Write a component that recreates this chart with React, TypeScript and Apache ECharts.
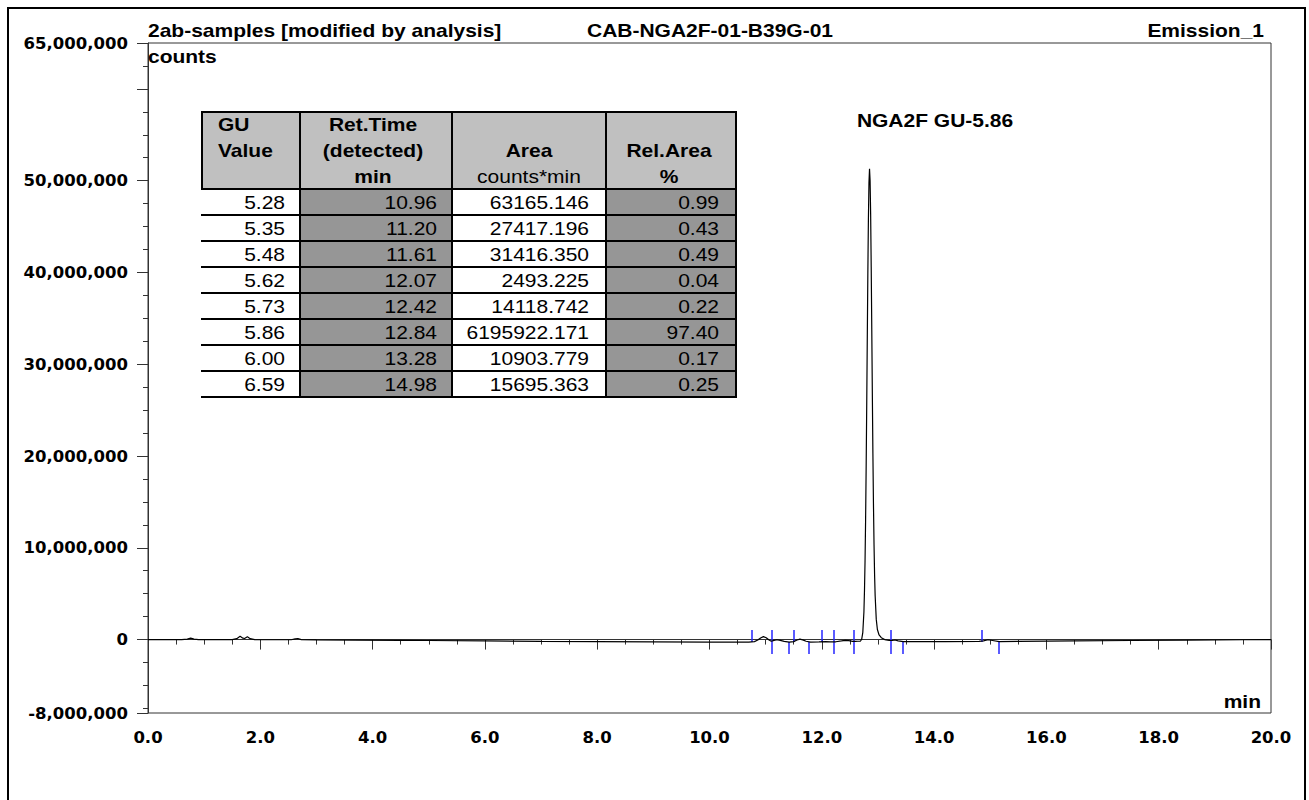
import React, { useEffect, useRef } from "react";
import * as echarts from "echarts";

// ---- axis ticks / labels ----
const yLabelValues = [-8000000, 0, 10000000, 20000000, 30000000, 40000000, 50000000, 65000000];
const yMajorTicks = [-8000000, 0, 10000000, 20000000, 30000000, 40000000, 50000000, 60000000, 65000000];
const yMinorTicks = [
  -7500000, -5000000, -2500000, 2500000, 5000000, 7500000, 12500000, 15000000, 17500000,
  22500000, 25000000, 27500000, 32500000, 35000000, 37500000, 42500000, 45000000, 47500000,
  52500000, 55000000, 57500000, 62500000,
];

// ---- trace (time in min, signal in millions of counts) ----
const traceTime = [
  0.0, 0.6, 0.7, 0.76, 0.82, 0.9, 1.5, 1.58, 1.64, 1.69, 1.72, 1.77, 1.82, 1.9, 2.2, 2.55, 2.62,
  2.67, 2.73, 3.0, 3.7, 4.5, 5.0, 6.0, 7.0, 8.0, 9.0, 10.0, 10.7, 10.8, 10.86, 10.91, 10.96,
  11.01, 11.06, 11.1, 11.15, 11.2, 11.26, 11.33, 11.42, 11.5, 11.56, 11.61, 11.66, 11.72, 11.8,
  11.95, 12.07, 12.15, 12.25, 12.35, 12.42, 12.48, 12.55, 12.6, 12.64, 12.69, 12.71, 12.73,
  12.75, 12.76, 12.77, 12.78, 12.79, 12.8, 12.81, 12.82, 12.83, 12.84, 12.85, 12.86, 12.87,
  12.88, 12.89, 12.9, 12.91, 12.92, 12.93, 12.94, 12.95, 12.97, 12.99, 13.02, 13.06, 13.12,
  13.2, 13.26, 13.3, 13.36, 13.45, 13.7, 14.2, 14.8, 14.88, 14.96, 15.04, 15.16, 15.5, 16.5,
  17.5, 18.5, 19.5, 20.0,
];
const traceMillions = [
  0, 0, 0.05, 0.15, 0.05, 0, 0, 0.1, 0.35, 0.15, 0.12, 0.3, 0.1, 0, -0.02, -0.02, 0.08,
  0.12, 0.0, -0.03, -0.05, -0.08, -0.1, -0.15, -0.2, -0.22, -0.25, -0.27, -0.27, -0.22, -0.05, 0.18, 0.32,
  0.2, -0.05, -0.18, -0.08, -0.02, -0.08, -0.2, -0.28, -0.22, -0.05, 0.05, -0.03, -0.18, -0.27,
  -0.26, -0.22, -0.25, -0.24, -0.15, -0.08, -0.12, -0.2, -0.2, -0.18, -0.16, 0.03, 0.76,
  3.0, 5.3, 8.5, 13.0, 18.8, 25.5, 32.8, 39.9, 45.8, 49.8, 51.3, 50.0, 46.3,
  40.6, 33.8, 26.8, 20.3, 14.8, 10.4, 7.1, 4.8, 2.2, 1.1, 0.5, 0.2, 0.0,
  -0.1, -0.1, -0.05, -0.15, -0.22, -0.22, -0.22, -0.2, -0.15, -0.02, -0.1, -0.22, -0.2, -0.15,
  -0.1, -0.06, -0.02, 0.0,
];

// ---- integration markers (min) ----
const peakStartTimes = [10.76, 11.1, 11.5, 12.0, 12.22, 12.57, 13.23, 14.85];
const peakEndTimes = [11.1, 11.42, 11.77, 12.22, 12.57, 13.23, 13.45, 15.16];

// ---- table ----
const guValues = ["5.28", "5.35", "5.48", "5.62", "5.73", "5.86", "6.00", "6.59"];
const retTimes = ["10.96", "11.20", "11.61", "12.07", "12.42", "12.84", "13.28", "14.98"];
const areas = ["63165.146", "27417.196", "31416.350", "2493.225", "14118.742", "6195922.171", "10903.779", "15695.363"];
const relAreas = ["0.99", "0.43", "0.49", "0.04", "0.22", "97.40", "0.17", "0.25"];

const FONT = '"Liberation Sans", Arial, Helvetica, sans-serif';
const AXIS_FONT = '"DejaVu Sans", "Liberation Sans", Arial, sans-serif';
const SX = 1.2;

function txt(text: string, x: number, y: number, align: string, bold: boolean, size = 17.5) {
  return {
    type: "text",
    x,
    y,
    scaleX: SX,
    silent: true,
    z: 20,
    style: {
      text,
      fill: "#000",
      fontFamily: FONT,
      fontWeight: bold ? "bold" : "normal",
      fontSize: size,
      align,
      textAlign: align,
      verticalAlign: "middle",
      textVerticalAlign: "middle",
    },
  };
}

function hline(x1: number, x2: number, y: number) {
  return { type: "line", silent: true, z: 15, shape: { x1, y1: y, x2, y2: y }, style: { stroke: "#000", lineWidth: 2 } };
}
function vline(x: number, y1: number, y2: number) {
  return { type: "line", silent: true, z: 15, shape: { x1: x, y1, x2: x, y2 }, style: { stroke: "#000", lineWidth: 2 } };
}

function buildTable() {
  const L = 202, R = 736, T = 112, HB = 189, RH = 26;
  const cols = [L, 300, 452, 606, R];
  const B = HB + RH * guValues.length;
  const els: any[] = [];
  els.push({ type: "rect", silent: true, z: 10, shape: { x: L, y: T, width: R - L, height: HB - T }, style: { fill: "#c0c0c0" } });
  els.push({ type: "rect", silent: true, z: 10, shape: { x: cols[1], y: HB, width: cols[2] - cols[1], height: B - HB }, style: { fill: "#969696" } });
  els.push({ type: "rect", silent: true, z: 10, shape: { x: cols[3], y: HB, width: cols[4] - cols[3], height: B - HB }, style: { fill: "#969696" } });
  els.push(hline(L - 1, R + 1, T));
  els.push(vline(L, T, HB));
  for (let i = 0; i <= guValues.length; i++) els.push(hline(L - 1, R + 1, HB + RH * i));
  for (let c = 1; c < cols.length; c++) els.push(vline(cols[c], T - 1, B + 1));
  // header
  els.push(txt("GU", 218, 125, "left", true));
  els.push(txt("Value", 218, 151, "left", true));
  const c2 = (cols[1] + cols[2]) / 2, c3 = (cols[2] + cols[3]) / 2, c4 = (cols[3] + cols[4]) / 2;
  els.push(txt("Ret.Time", c2 - 3, 125, "center", true));
  els.push(txt("(detected)", c2 - 3, 151, "center", true));
  els.push(txt("min", c2 - 3, 177, "center", true));
  els.push(txt("Area", c3, 151, "center", true));
  els.push(txt("counts*min", c3, 177, "center", false));
  els.push(txt("Rel.Area", c4 - 2, 151, "center", true));
  els.push(txt("%", c4 - 2, 177, "center", true));
  const rights = [285, 437, 589, 719];
  const colsData = [guValues, retTimes, areas, relAreas];
  for (let i = 0; i < guValues.length; i++) {
    const y = HB + RH * i + RH / 2 + 1;
    colsData.forEach((arr, c) => els.push(txt(arr[i], rights[c], y, "right", false)));
  }
  return els;
}

const MARK_BASE = -270000;
const MARK_LEN = 1300000;

function buildOption() {
  const data = traceTime.map((t, i) => [t, traceMillions[i] * 1e6]);
  const markData: any[] = [];
  peakStartTimes.forEach((t) => markData.push([{ coord: [t, MARK_BASE] }, { coord: [t, MARK_BASE + MARK_LEN] }]));
  peakEndTimes.forEach((t) => markData.push([{ coord: [t, MARK_BASE] }, { coord: [t, MARK_BASE - MARK_LEN] }]));

  const axisLabelStyle = { color: "#000", fontFamily: AXIS_FONT, fontWeight: "bold", fontSize: 16.5 };
  const tickLine = { color: "#333", width: 1 };

  return {
    animation: false,
    backgroundColor: "#fff",
    grid: { left: 148, right: 38, top: 43, bottom: 87, show: true, borderColor: "#333", borderWidth: 1, backgroundColor: "transparent" },
    xAxis: {
      type: "value",
      min: 0,
      max: 20,
      interval: 2,
      axisLine: { show: true, lineStyle: { color: "#333", width: 1 } },
      axisTick: { show: true, length: 10, lineStyle: tickLine },
      minorTick: { show: true, splitNumber: 4, length: 5, lineStyle: tickLine },
      axisLabel: { ...axisLabelStyle, margin: 16, formatter: (v: number) => v.toFixed(1) },
      splitLine: { show: false },
      minorSplitLine: { show: false },
    },
    yAxis: [
      {
        type: "value",
        min: -8000000,
        max: 65000000,
        position: "left",
        axisLine: { show: true, onZero: false, lineStyle: { color: "#333", width: 1 } },
        axisTick: { show: true, length: 11, customValues: yMajorTicks, lineStyle: tickLine },
        axisLabel: { ...axisLabelStyle, margin: 20, customValues: yLabelValues, formatter: (v: number) => v.toLocaleString("en-US") },
        splitLine: { show: false },
      },
      {
        type: "value",
        min: -8000000,
        max: 65000000,
        position: "left",
        axisLine: { show: false },
        axisTick: { show: true, length: 5, customValues: yMinorTicks, lineStyle: tickLine },
        axisLabel: { show: false },
        splitLine: { show: false },
      },
    ],
    series: [
      {
        type: "line",
        data,
        xAxisIndex: 0,
        yAxisIndex: 0,
        showSymbol: false,
        symbol: "none",
        lineStyle: { color: "#000", width: 1.2 },
        z: 5,
        markLine: {
          silent: true,
          symbol: ["none", "none"],
          label: { show: false },
          lineStyle: { color: "#2424ff", width: 1.5, type: "solid" },
          data: markData,
          animation: false,
        },
      },
    ],
    graphic: [
      { type: "rect", silent: true, z: 1, shape: { x: 8, y: 8, width: 1297, height: 820 }, style: { fill: "none", stroke: "#000", lineWidth: 2 } },
      txt("2ab-samples [modified by analysis]", 148, 31, "left", true),
      txt("CAB-NGA2F-01-B39G-01", 710, 31, "center", true),
      txt("Emission_1", 1264, 31, "right", true),
      txt("counts", 148, 57, "left", true),
      txt("NGA2F GU-5.86", 935, 121, "center", true),
      txt("min", 1261, 702, "right", true),
      ...buildTable(),
    ],
  };
}

export default function App() {
  const ref = useRef<HTMLDivElement>(null);
  useEffect(() => {
    if (!ref.current) return;
    const chart = echarts.init(ref.current, null, { renderer: "svg" });
    chart.setOption(buildOption() as any);
    return () => chart.dispose();
  }, []);
  return (
    <div
      ref={ref}
      style={{ position: "absolute", left: 0, top: 0, width: 1309, height: 800, background: "#fff" }}
    />
  );
}
